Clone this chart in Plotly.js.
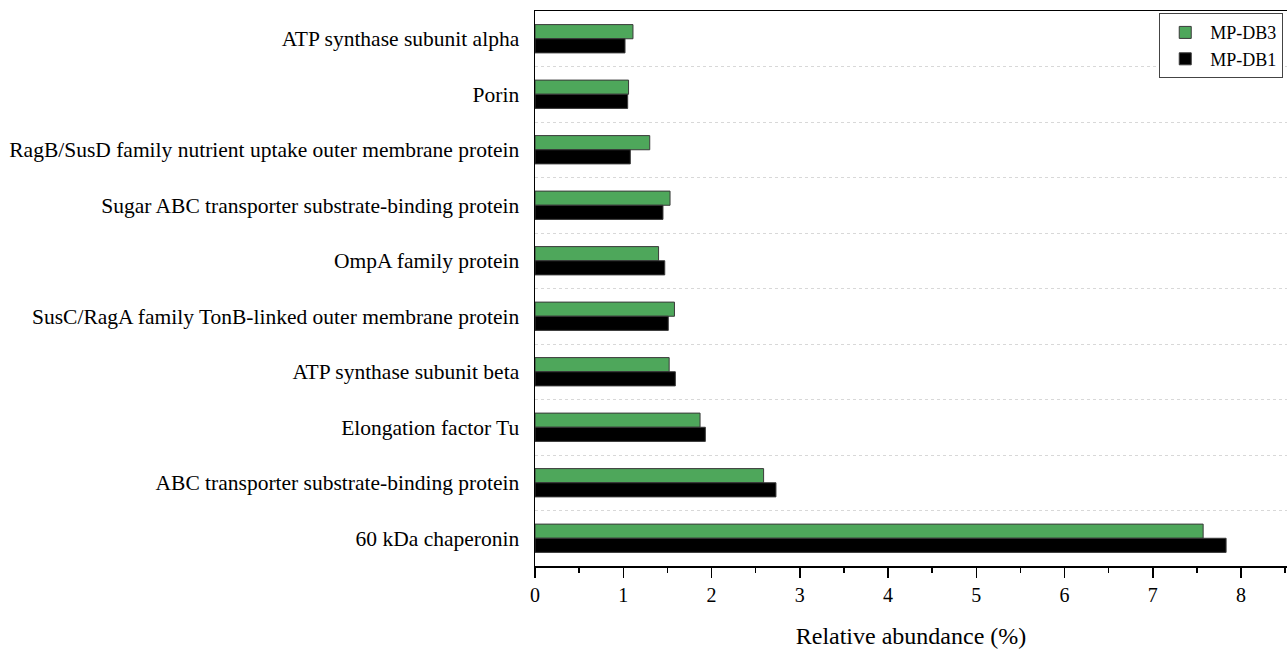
<!DOCTYPE html>
<html>
<head>
<meta charset="utf-8">
<script src="https://cdn.plot.ly/plotly-3.0.1.min.js"></script>
<style>html,body{margin:0;padding:0;background:#fff;}#chart{width:1287px;height:652px;}</style>
</head>
<body>
<div id="chart"></div>
<script>
const categories = [
  "ATP synthase subunit alpha",
  "Porin",
  "RagB/SusD family nutrient uptake outer membrane protein",
  "Sugar ABC transporter substrate-binding protein",
  "OmpA family protein",
  "SusC/RagA family TonB-linked outer membrane protein",
  "ATP synthase subunit beta",
  "Elongation factor Tu",
  "ABC transporter substrate-binding protein",
  "60 kDa chaperonin"
];
const mpdb3 = [1.11, 1.06, 1.30, 1.53, 1.40, 1.58, 1.52, 1.87, 2.59, 7.57];
const mpdb1 = [1.02, 1.05, 1.08, 1.45, 1.47, 1.51, 1.59, 1.93, 2.73, 7.83];
const xTicks = [0, 1, 2, 3, 4, 5, 6, 7, 8];

const font = {family: "Liberation Serif, Times New Roman, serif", color: "#000"};

const traces = [
  {type: "bar", orientation: "h", name: "MP-DB3", y: categories, x: mpdb3,
   marker: {color: "#4EA75B", line: {color: "#3a3a3a", width: 1}}},
  {type: "bar", orientation: "h", name: "MP-DB1", y: categories, x: mpdb1,
   marker: {color: "#000000", line: {color: "#3a3a3a", width: 1}}}
];

const layout = {
  width: 1287, height: 652,
  margin: {l: 535, r: 0, t: 11, b: 86},
  paper_bgcolor: "#fff", plot_bgcolor: "#fff",
  barmode: "group", bargap: 0.49, bargroupgap: 0,
  font: Object.assign({size: 18}, font),
  showlegend: true,
  legend: {x: 0.995, y: 0.996, xanchor: "right", yanchor: "top",
           bordercolor: "#444", borderwidth: 1, bgcolor: "#fff",
           font: Object.assign({size: 18}, font), tracegroupgap: 0,
           itemwidth: 40},
  xaxis: {
    range: [0, 8.52], tickvals: xTicks, ticktext: xTicks.map(String),
    ticks: "outside", ticklen: 10, tickwidth: 1.5, tickcolor: "#000",
    minor: {dtick: 0.5, tick0: 0, ticks: "outside", ticklen: 5, tickwidth: 1.5, tickcolor: "#000", showgrid: false},
    showline: true, linecolor: "#000", linewidth: 1.5, mirror: true,
    showgrid: false, zeroline: false,
    tickfont: Object.assign({size: 20}, font),
    title: {text: "Relative abundance (%)", font: Object.assign({size: 24}, font), standoff: 22}
  },
  yaxis: {
    type: "category", autorange: "reversed",
    tickson: "boundaries", ticks: "", ticklen: 0,
    showline: true, linecolor: "#000", linewidth: 1.5,
    showgrid: true, gridcolor: "#d8d8d8", griddash: "dot", gridwidth: 1,
    zeroline: false,
    tickfont: Object.assign({size: 21.5}, font),
    ticklabelstandoff: 10
  }
};

Plotly.newPlot("chart", traces, layout, {displayModeBar: false, staticPlot: true});
</script>
</body>
</html>
